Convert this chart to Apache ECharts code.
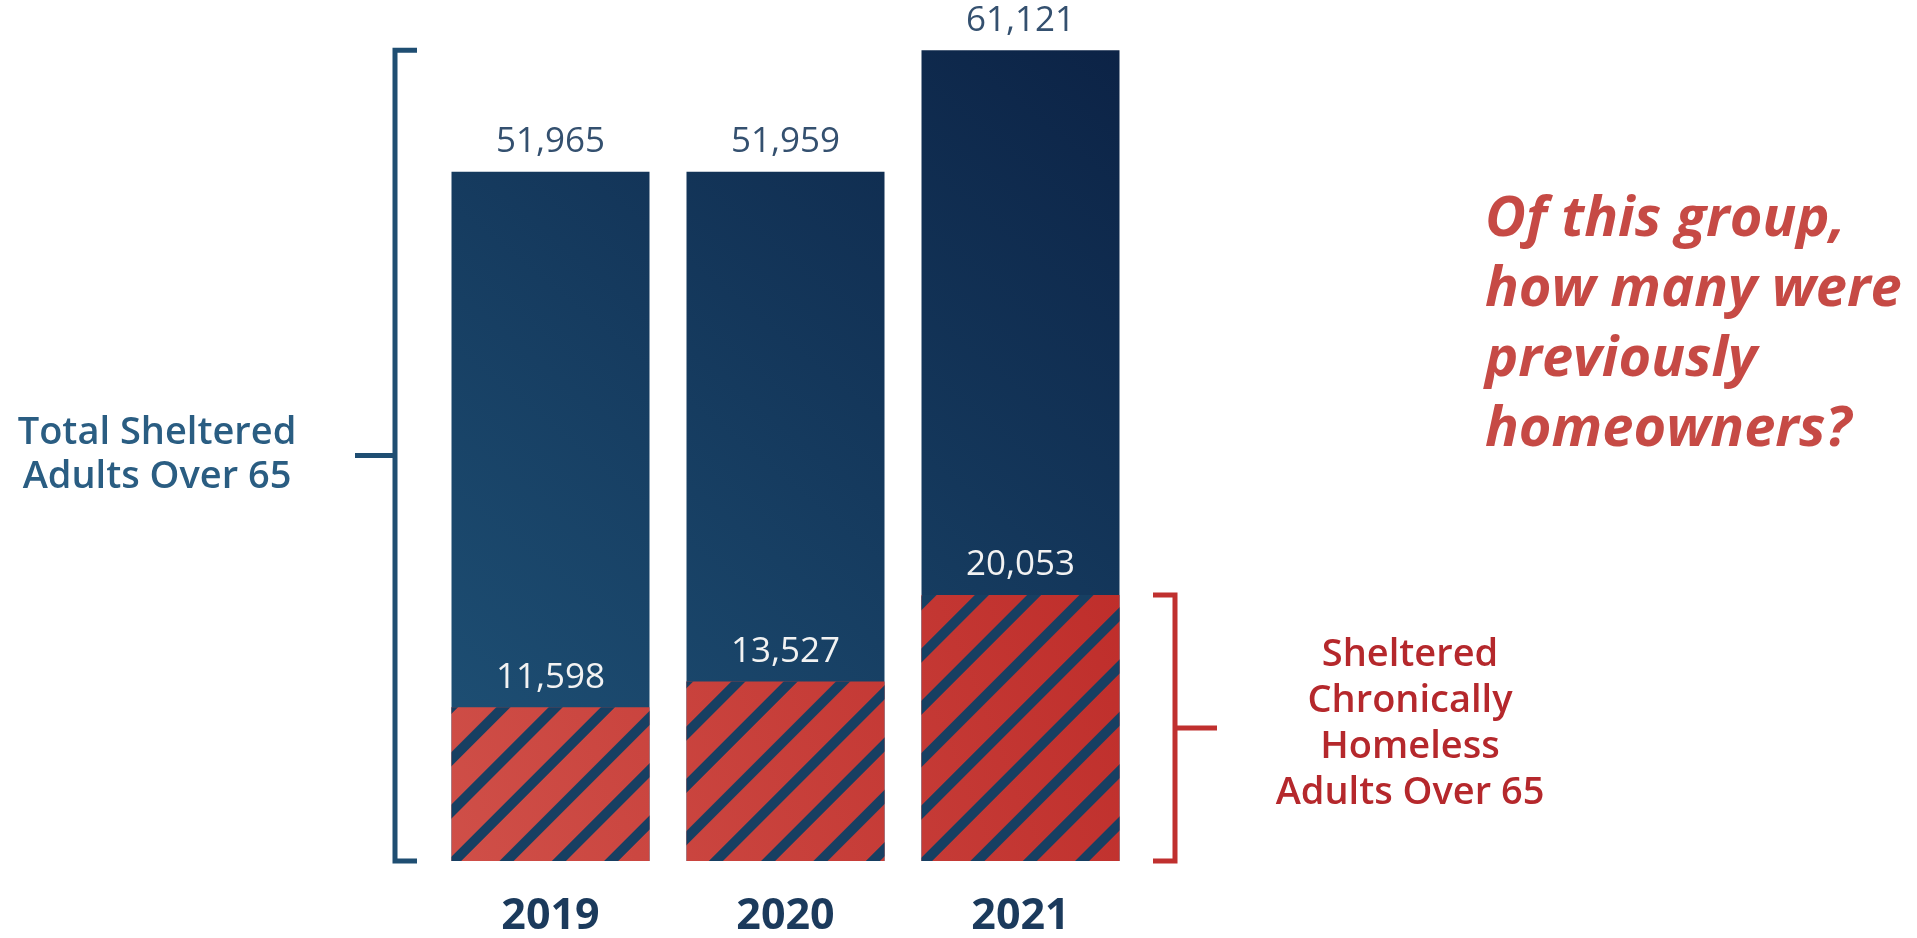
<!DOCTYPE html>
<html>
<head>
<meta charset="utf-8">
<style>
  html, body { margin: 0; padding: 0; background: #fff; }
  #chart { width: 1917px; height: 938px; }
</style>
<script src="https://cdn.jsdelivr.net/npm/echarts@6/dist/echarts.min.js"></script>
</head>
<body>
<div id="chart"></div>
<script>
// values
const years = ['2019', '2020', '2021'];
const totalAdults = [51965, 51959, 61121];
const chronicAdults = [11598, 13527, 20053];

const totalLabel = 'Total Sheltered\nAdults Over 65';
const chronicLabel = 'Sheltered\nChronically\nHomeless\nAdults Over 65';
const question = 'Of this group,\nhow many were\npreviously\nhomeowners?';

const navy = '#1f4e72';
const red = '#c0302f';
const fmt = v => v.toLocaleString('en-US');

const chart = echarts.init(document.getElementById('chart'));

chart.setOption({
    animation: false,
    grid: { left: 433, right: 1917 - 1138, top: 12, bottom: 76 },
    xAxis: {
        type: 'category',
        data: years,
        axisLine: { show: false },
        axisTick: { show: false },
        axisLabel: {
            margin: 34,
            color: '#1b3a5c',
            fontSize: 43,
            fontWeight: 'bold',
            fontFamily: 'Open Sans'
        }
    },
    yAxis: {
        type: 'value',
        min: 0,
        max: 64000,
        show: false,
        splitLine: { show: false }
    },
    series: [
        {
            name: 'Total',
            type: 'bar',
            data: totalAdults,
            barWidth: 198,
            barGap: '-100%',
            itemStyle: {
                color: new echarts.graphic.LinearGradient(450, 860, 1120, 50, [
                    { offset: 0, color: '#1f5378' },
                    { offset: 1, color: '#0c2346' }
                ], true)
            },
            label: {
                show: true,
                position: 'top',
                distance: 12,
                formatter: p => fmt(p.value),
                color: '#34506f',
                fontSize: 35,
                fontFamily: 'Open Sans'
            }
        },
        {
            name: 'Chronic',
            type: 'bar',
            data: chronicAdults,
            barWidth: 198,
            itemStyle: {
                color: new echarts.graphic.LinearGradient(450, 860, 1120, 590, [
                    { offset: 0, color: '#cf4f48' },
                    { offset: 1, color: '#bf2e2b' }
                ], true),
                decal: {
                    symbol: 'rect',
                    symbolSize: 1,
                    color: '#173f62',
                    dashArrayX: [1, 0],
                    dashArrayY: [10, 27],
                    rotation: -Math.PI / 4
                }
            },
            label: {
                show: true,
                position: 'top',
                distance: 12,
                formatter: p => fmt(p.value),
                color: '#f2f2f2',
                fontSize: 35,
                fontFamily: 'Open Sans'
            }
        }
    ]
});

// brackets follow the axis scale
const yOf = v => chart.convertToPixel({ yAxisIndex: 0 }, v);
const y0 = yOf(0);
const yTotal = yOf(Math.max(...totalAdults));
const yChronic = yOf(chronicAdults[chronicAdults.length - 1]);

function bracket(x, yTop, yBot, tickDir, midLen, color) {
    const yMid = (yTop + yBot) / 2;
    const ls = { stroke: color, lineWidth: 5 };
    return {
        type: 'group',
        children: [
            { type: 'polyline', shape: { points: [[x + tickDir * 22, yTop], [x, yTop], [x, yBot], [x + tickDir * 22, yBot]] }, style: ls },
            { type: 'line', shape: { x1: x, y1: yMid, x2: x - tickDir * midLen, y2: yMid }, style: ls }
        ]
    };
}

chart.setOption({
    graphic: [
        bracket(395, yTotal, y0, 1, 40, navy),
        bracket(1175, yChronic, y0, -1, 42, red),
        {
            type: 'text',
            x: 157, y: (yTotal + y0) / 2,
            style: {
                text: totalLabel,
                font: '600 38px "Open Sans"',
                fill: '#2a5d82',
                align: 'center',
                verticalAlign: 'middle',
                lineHeight: 44
            }
        },
        {
            type: 'text',
            x: 1410, y: (yChronic + y0) / 2 - 4,
            style: {
                text: chronicLabel,
                font: '600 38px "Open Sans"',
                fill: '#b5282c',
                align: 'center',
                verticalAlign: 'middle',
                lineHeight: 46
            }
        },
        {
            type: 'text',
            x: 1485, y: 325,
            style: {
                text: question,
                font: 'italic bold 56px "Open Sans"',
                fill: '#c64a45',
                align: 'left',
                verticalAlign: 'middle',
                lineHeight: 70
            }
        }
    ]
});
</script>
</body>
</html>
